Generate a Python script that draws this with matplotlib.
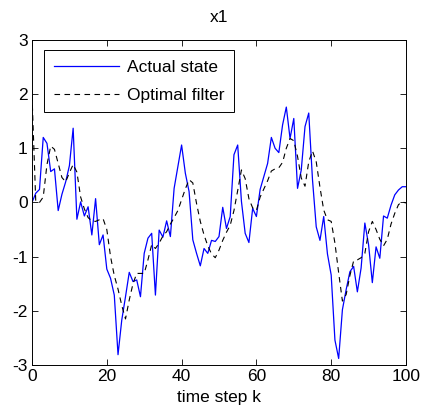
# Zustand x1 und Schaetzung des optimalen Filters ueber die Zeitschritte k

import numpy as np
import matplotlib.pyplot as plt

# Zeitschritte
k = np.arange(101)

# tatsaechlicher Zustand
actual_state = [
    0.0, 0.17, 0.24, 1.2, 1.09, 0.57, 0.62, -0.15, 0.15, 0.38,
    0.68, 1.37, -0.31, 0.01, -0.25, -0.08, -0.6, 0.07, -0.78, -0.6,
    -1.23, -1.4, -1.71, -2.81, -2.17, -1.74, -1.29, -1.46, -1.43, -1.74,
    -0.94, -0.66, -0.57, -1.71, -0.51, -0.64, -0.34, -0.63, 0.26, 0.66,
    1.06, 0.54, 0.2, -0.69, -0.94, -1.17, -0.85, -0.94, -0.7, -0.72,
    -0.63, -0.09, -0.48, -0.26, 0.88, 1.06, 0.02, -0.57, -0.74, -0.11,
    -0.26, 0.24, 0.48, 0.72, 1.2, 1.0, 0.92, 1.43, 1.76, 1.18,
    1.55, 0.26, 0.6, 1.4, 1.65, 0.42, -0.45, -0.7, -0.26, -0.95,
    -1.34, -2.54, -2.88, -1.98, -1.61, -1.28, -1.18, -1.65, -1.21, -0.38,
    -0.78, -1.48, -0.82, -1.03, -0.25, -0.29, -0.05, 0.14, 0.23, 0.29,
    0.29]

# Schaetzung des optimalen Filters
optimal_filter = [
    1.98, 0.02, 0.0, 0.1, 0.7, 1.04, 0.98, 0.72, 0.46, 0.38,
    0.55, 0.7, 0.56, 0.1, -0.12, -0.28, -0.34, -0.35, -0.32, -0.3,
    -0.5, -1.0, -1.35, -1.6, -1.9, -2.15, -1.8, -1.5, -1.31, -1.31,
    -1.31, -1.06, -0.78, -0.85, -0.75, -0.62, -0.54, -0.4, -0.28, -0.15,
    0.05, 0.25, 0.42, 0.36, -0.02, -0.35, -0.6, -0.8, -0.95, -1.02,
    -0.88, -0.7, -0.55, -0.42, -0.15, 0.22, 0.6, 0.44, 0.07, -0.1,
    -0.15, 0.1, 0.25, 0.4, 0.58, 0.62, 0.64, 0.74, 1.0, 1.18,
    1.14, 0.85, 0.45, 0.3, 0.75, 0.95, 0.75, 0.28, -0.14, -0.32,
    -0.35, -0.75, -1.3, -1.82, -1.7, -1.35, -1.08, -1.06, -1.02, -0.94,
    -0.54, -0.35, -0.5, -0.68, -0.8, -0.68, -0.4, -0.2, -0.04, 0.01,
    -0.01]

x_ticks = [0, 20, 40, 60, 80, 100]
y_ticks = [-3, -2, -1, 0, 1, 2, 3]

plt.rcParams['font.family'] = ['Liberation Sans', 'DejaVu Sans']
plt.rcParams['axes.unicode_minus'] = False
fs = 12.5

# Plot vorbereiten (Matlab-Look)
fig = plt.figure(figsize=(4.24, 4.20), dpi=100)
ax = fig.add_axes([0.0755, 0.131, 0.882, 0.774])

ax.plot(k, actual_state, color=(0, 0, 1), linewidth=0.9, label='Actual state')
ax.plot(k, optimal_filter, color='black', linestyle=(0, (5, 4)),
        linewidth=0.8, label='Optimal filter')

ax.set_xlim(0, 100)
ax.set_ylim(-3, 3)
ax.set_xticks(x_ticks)
ax.set_yticks(y_ticks)
ax.tick_params(direction='in', top=True, right=True, length=4, width=0.6,
               pad=3, labelsize=fs)
for spine in ax.spines.values():
    spine.set_linewidth(0.7)

# Legende
leg = ax.legend(loc='upper left', bbox_to_anchor=(0.032, 0.968),
                fancybox=False, framealpha=1, edgecolor='black',
                handlelength=3.8, handletextpad=0.45, borderpad=0.55,
                labelspacing=0.72, fontsize=fs, borderaxespad=0)
leg.get_frame().set_linewidth(0.7)

# Beschriftungen
ax.set_title('x1', fontsize=fs, pad=13)
ax.set_xlabel('time step k', fontsize=fs, labelpad=4)

plt.savefig('out.png', dpi=100)
